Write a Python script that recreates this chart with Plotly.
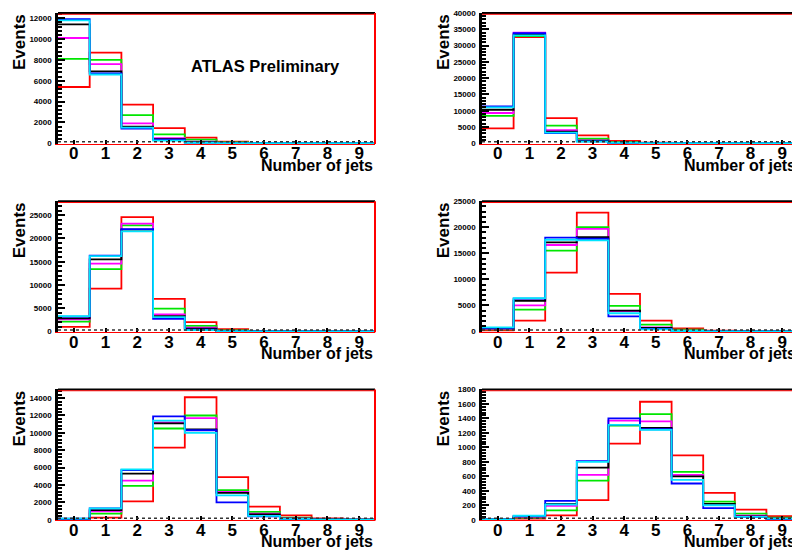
import plotly.graph_objects as go
from plotly.subplots import make_subplots

# page is rendered with an 8px body margin; figure is sized to fit
OFF = 8
W, H = 800 - OFF, 558 - OFF

# ---------------- data ----------------
jets = [0, 1, 2, 3, 4, 5, 6, 7, 8, 9]
tick_labels = ["0", "1", "2", "3", "4", "5", "6", "7", "8", "9"]
series = ["red", "green", "magenta", "black", "blue", "cyan"]
colors = ["#ff0000", "#00e600", "#ff00ff", "#000000", "#0000ff", "#00e5ff"]

p1_red = [5400, 8700, 3700, 1450, 550, 150, 40, 10, 5, 2]
p1_green = [8100, 8000, 2700, 850, 350, 80, 20, 5, 2, 1]
p1_magenta = [10100, 7600, 1900, 500, 150, 30, 10, 2, 1, 0]
p1_black = [11400, 6900, 1600, 400, 100, 20, 5, 1, 0, 0]
p1_blue = [11900, 6700, 1400, 350, 60, 15, 5, 1, 0, 0]
p1_cyan = [11800, 6600, 1500, 250, 50, 15, 5, 1, 0, 0]

p2_red = [4600, 32600, 7700, 2400, 700, 200, 50, 10, 3, 1]
p2_green = [8400, 32900, 5400, 1400, 400, 100, 25, 5, 1, 0]
p2_magenta = [9300, 34000, 4000, 900, 200, 50, 10, 2, 0, 0]
p2_black = [10300, 33400, 3600, 800, 150, 40, 10, 2, 0, 0]
p2_blue = [11300, 33800, 3100, 600, 120, 30, 5, 1, 0, 0]
p2_cyan = [11000, 33100, 3300, 500, 100, 25, 5, 1, 0, 0]

p3_red = [1000, 9200, 24600, 7000, 2000, 500, 150, 40, 10, 3]
p3_green = [2100, 13400, 22800, 4900, 1200, 250, 60, 15, 3, 1]
p3_magenta = [2600, 14600, 23200, 3700, 800, 150, 30, 8, 2, 0]
p3_black = [2800, 15500, 21900, 3300, 600, 120, 25, 5, 1, 0]
p3_blue = [3200, 16300, 22000, 2700, 400, 80, 15, 3, 1, 0]
p3_cyan = [3300, 16200, 21500, 3100, 300, 70, 15, 3, 1, 0]

p4_red = [200, 2100, 11300, 22800, 7200, 2100, 600, 150, 40, 10]
p4_green = [400, 4200, 15500, 20000, 4900, 1300, 350, 80, 20, 5]
p4_magenta = [500, 5000, 16600, 19700, 3900, 800, 150, 30, 8, 2]
p4_black = [600, 5900, 17100, 18100, 4000, 700, 130, 25, 5, 1]
p4_blue = [700, 6300, 18000, 17800, 2900, 500, 90, 20, 4, 1]
p4_cyan = [800, 6400, 17600, 17500, 3500, 400, 90, 20, 4, 1]

p5_red = [20, 250, 2100, 8300, 14100, 4900, 1500, 500, 150, 40]
p5_green = [60, 700, 3900, 10500, 12000, 3400, 900, 250, 60, 15]
p5_magenta = [80, 950, 4500, 11200, 11700, 3200, 700, 150, 30, 8]
p5_black = [100, 1100, 5300, 11100, 10400, 3100, 600, 120, 25, 5]
p5_blue = [110, 1300, 5700, 11900, 10300, 2000, 400, 90, 20, 5]
p5_cyan = [120, 1300, 5800, 11400, 10000, 2800, 450, 100, 20, 5]

p6_red = [1, 15, 60, 270, 1050, 1630, 890, 370, 140, 50]
p6_green = [3, 30, 130, 540, 1300, 1460, 660, 250, 85, 30]
p6_magenta = [4, 40, 190, 620, 1370, 1360, 620, 210, 55, 15]
p6_black = [4, 45, 220, 720, 1310, 1270, 600, 220, 45, 15]
p6_blue = [5, 50, 260, 810, 1400, 1250, 500, 160, 35, 12]
p6_cyan = [5, 55, 210, 800, 1310, 1240, 550, 200, 40, 15]

y_max = [12500, 40000, 28000, 25000, 15000, 1800]
y_dtick = [2000, 5000, 5000, 5000, 2000, 200]

panels = [
    [p1_red, p1_green, p1_magenta, p1_black, p1_blue, p1_cyan],
    [p2_red, p2_green, p2_magenta, p2_black, p2_blue, p2_cyan],
    [p3_red, p3_green, p3_magenta, p3_black, p3_blue, p3_cyan],
    [p4_red, p4_green, p4_magenta, p4_black, p4_blue, p4_cyan],
    [p5_red, p5_green, p5_magenta, p5_black, p5_blue, p5_cyan],
    [p6_red, p6_green, p6_magenta, p6_black, p6_blue, p6_cyan],
]

# ---------------- layout geometry (page pixels) ----------------
col_px = [(58, 375), (482, 798)]
row_px = [(9, 142), (200, 333), (391, 524)]


def fx(px):
    return (px - OFF) / W


def fy(py):
    return 1 - (py - OFF) / H


fig = make_subplots(rows=3, cols=2)

FONT = "Liberation Sans, Arial, Helvetica, sans-serif"

edges = [j - 0.5 for j in jets] + [jets[-1] + 0.5]

for i, vals_list in enumerate(panels):
    r, c = i // 2 + 1, i % 2 + 1
    for name, col, vals in zip(series, colors, vals_list):
        fig.add_trace(
            go.Scatter(
                x=edges,
                y=list(vals) + [vals[-1]],
                mode="lines",
                line=dict(color=col, width=1.8, shape="hv"),
                name=name,
                showlegend=False,
                hoverinfo="skip",
            ),
            row=r,
            col=c,
        )

    ax = "" if i == 0 else str(i + 1)
    x0, x1 = col_px[c - 1]
    t, b = row_px[r - 1]
    ymx = y_max[i]
    fig.update_layout(
        {
            "xaxis" + ax: dict(
                domain=[fx(x0), fx(x1)],
                range=[-0.5, 9.5],
                tickmode="array",
                tickvals=jets,
                ticktext=tick_labels,
                ticks="inside",
                ticklen=4,
                tickwidth=2,
                tickcolor="black",
                showgrid=False,
                zeroline=False,
                showline=True,
                linecolor="#ff0000",
                linewidth=1,
                tickfont=dict(family=FONT, size=17, color="black", weight="bold"),
                ticklabelstandoff=-6,
            ),
            "yaxis" + ax: dict(
                domain=[fy(b), fy(t)],
                range=[-ymx * 0.006, ymx],
                dtick=y_dtick[i],
                tick0=0,
                tickformat="d",
                ticks="inside",
                ticklen=7,
                tickwidth=2,
                tickcolor="black",
                minor=dict(dtick=y_dtick[i] / 5, ticks="inside", ticklen=4,
                           tickwidth=2, tickcolor="black", showgrid=False),
                showgrid=False,
                zeroline=False,
                showline=True,
                linecolor="black",
                linewidth=2.5,
                tickfont=dict(family=FONT, size=8, color="black", weight="bold"),
                ticklabelstandoff=2,
            ),
        }
    )

    xref = "x" + ax + " domain"
    yref = "y" + ax + " domain"
    # frame: black top, red just inside, red right
    fig.add_shape(type="line", xref=xref, yref=yref, x0=0, x1=1, y0=1, y1=1,
                  line=dict(color="black", width=2))
    fig.add_shape(type="line", xref=xref, yref=yref, x0=0, x1=1, y0=0.99, y1=0.99,
                  line=dict(color="#ff0000", width=1))
    fig.add_shape(type="line", xref=xref, yref=yref, x0=1, x1=1, y0=0, y1=1,
                  line=dict(color="#ff0000", width=2))
    fig.add_shape(type="line", xref=xref, yref=yref, x0=0, x1=1, y0=0.018, y1=0.018,
                  line=dict(color="#333333", width=1.5, dash="dot"))

    # axis titles
    fig.add_annotation(
        text="Number of jets", xref="paper", yref="paper",
        x=fx(x1), y=fy(b + 11), xanchor="right", yanchor="top",
        showarrow=False,
        font=dict(family=FONT, size=16, color="black", weight="bold"),
    )
    fig.add_annotation(
        text="Events", xref="paper", yref="paper",
        x=fx(x0 - 39), y=fy(t - 1), xanchor="center", yanchor="top",
        textangle=-90, showarrow=False,
        font=dict(family=FONT, size=17, color="black", weight="bold"),
    )

fig.add_annotation(
    text="ATLAS Preliminary", xref="paper", yref="paper",
    x=fx(265), y=fy(63), xanchor="center", yanchor="middle", showarrow=False,
    font=dict(family=FONT, size=16.5, color="black", weight="bold"),
)

fig.update_layout(
    width=W,
    height=H,
    margin=dict(l=0, r=0, t=0, b=0),
    paper_bgcolor="white",
    plot_bgcolor="white",
    showlegend=False,
)

fig.write_html("out.html")
